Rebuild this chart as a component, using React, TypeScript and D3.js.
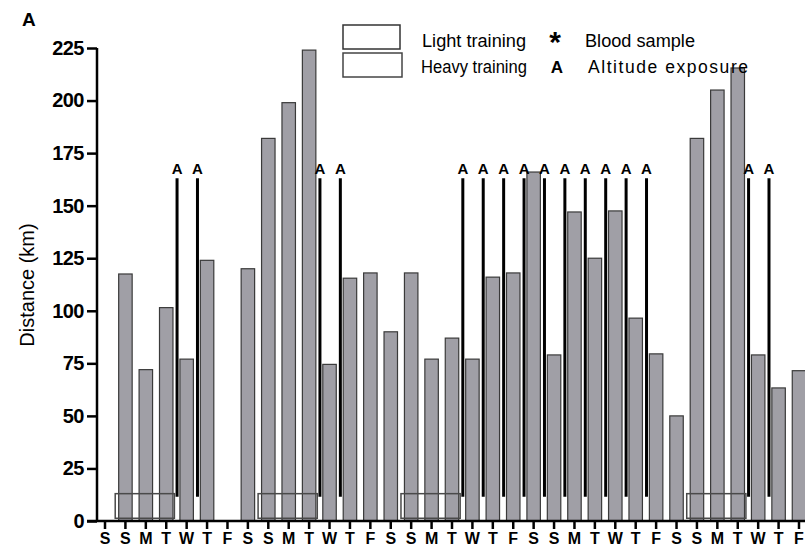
import React, { useEffect, useRef } from "react";
import * as d3 from "d3";

const dayLabels: string[] = [
  "S", "S", "M", "T", "W", "T", "F",
  "S", "S", "M", "T", "W", "T", "F",
  "S", "S", "M", "T", "W", "T", "F",
  "S", "S", "M", "T", "W", "T", "F",
  "S", "S", "M", "T", "W", "T", "F",
];

const distances: (number | null)[] = [
  null, 117.5, 72, 101.5, 77, 124, null,
  120, 182, 199, 224, 74.5, 115.5, 118,
  90, 118, 77, 87, 77, 116, 118,
  166, 79, 147, 125, 147.5, 96.5, 79.5,
  50, 182, 205, 215.5, 79, 63.3, 71.5,
];

const altitudeDays: number[] = [3, 4, 10, 11, 17, 18, 19, 20, 21, 22, 23, 24, 25, 26, 31, 32];
const altitudeTop = 163;
const altitudeBottom = 11.5;

const trainingStart: number[] = [1, 8, 15, 29];
const trainingEnd: number[] = [3, 10, 17, 31];
const trainingTop = 13;
const trainingBottom = 1.3;

const yTicks: number[] = [0, 25, 50, 75, 100, 125, 150, 175, 200, 225];

const W = 805;
const H = 547;
const FONT = "'Liberation Sans', Arial, Helvetica, sans-serif";

export default function App() {
  const xAxisRef = useRef<SVGGElement>(null);
  const yAxisRef = useRef<SVGGElement>(null);

  const idx = dayLabels.map((_, i) => i);
  const x = d3
    .scaleBand<number>()
    .domain(idx)
    .range([94.8, 809.2])
    .paddingInner(0.34)
    .paddingOuter(0.17);
  const step = x.step();
  const bw = x.bandwidth();
  const cx = (i: number) => (x(i) as number) + bw / 2;

  const y = d3.scaleLinear().domain([0, 225]).range([521, 48]);

  useEffect(() => {
    if (xAxisRef.current) {
      const g = d3.select(xAxisRef.current);
      g.selectAll("*").remove();
      g.call(
        d3
          .axisBottom(x)
          .tickSize(8)
          .tickPadding(4)
          .tickFormat((d) => dayLabels[d as number])
      );
      g.select(".domain").remove();
      g.selectAll(".tick line").attr("stroke", "#000").attr("stroke-width", 2.5);
      g.selectAll(".tick text")
        .attr("fill", "#000")
        .style("font-family", FONT)
        .style("font-size", "16px")
        .style("font-weight", "bold");
    }
    if (yAxisRef.current) {
      const g = d3.select(yAxisRef.current);
      g.selectAll("*").remove();
      g.call(d3.axisLeft(y).tickValues(yTicks).tickSize(10).tickPadding(3));
      g.select(".domain").remove();
      g.selectAll(".tick line").attr("stroke", "#000").attr("stroke-width", 2.5);
      g.selectAll(".tick text")
        .attr("fill", "#000")
        .style("font-family", FONT)
        .style("font-size", "20px")
        .style("font-weight", "bold")
        .style("letter-spacing", "-0.5px");
    }
  });

  return (
    <svg
      width={W}
      height={H}
      style={{ position: "absolute", left: 0, top: 0, background: "#fff" }}
      fontFamily={FONT}
    >
      {/* bars */}
      {distances.map((v, i) =>
        v == null ? null : (
          <rect
            key={"b" + i}
            x={x(i)}
            y={y(v)}
            width={bw}
            height={y(0) - y(v)}
            fill="#a09fa6"
            stroke="#3a3a3a"
            strokeWidth={1.2}
          />
        )
      )}

      {/* training blocks */}
      {trainingStart.map((s, k) => (
        <rect
          key={"t" + k}
          x={cx(s) - step * 0.5}
          y={y(trainingTop)}
          width={cx(trainingEnd[k]) + step * 0.4 - (cx(s) - step * 0.5)}
          height={y(trainingBottom) - y(trainingTop)}
          fill="none"
          stroke="#4a4a4a"
          strokeWidth={1.5}
        />
      ))}

      {/* altitude exposure lines */}
      {altitudeDays.map((d) => (
        <g key={"a" + d}>
          <line
            x1={cx(d) + step * 0.53}
            x2={cx(d) + step * 0.53}
            y1={y(altitudeBottom)}
            y2={y(altitudeTop)}
            stroke="#000"
            strokeWidth={3}
          />
          <text
            x={cx(d) + step * 0.53}
            y={y(altitudeTop) - 4}
            textAnchor="middle"
            fontSize={15}
            fontWeight="bold"
            fill="#000"
          >
            A
          </text>
        </g>
      ))}

      {/* axes */}
      <g ref={xAxisRef} transform={`translate(0,${y(0)})`} />
      <g ref={yAxisRef} transform={`translate(97,0)`} />
      <line x1={97} x2={97} y1={y(225)} y2={y(0)} stroke="#000" strokeWidth={2.5} />
      <line x1={87} x2={W} y1={y(0)} y2={y(0)} stroke="#000" strokeWidth={2.5} />

      {/* y title */}
      <text
        transform={`translate(34,285) rotate(-90)`}
        textAnchor="middle"
        fontSize={20}
        fill="#000"
      >
        Distance (km)
      </text>

      {/* panel letter */}
      <text x={22} y={26} fontSize={19} fontWeight="bold" fill="#000">
        A
      </text>

      {/* legend */}
      <rect x={343} y={25} width={57} height={24} fill="none" stroke="#333" strokeWidth={1.5} />
      <rect x={343} y={53} width={59} height={24} fill="none" stroke="#444" strokeWidth={1.5} />
      <text x={422} y={47} fontSize={17.5} fill="#000" textLength={104} lengthAdjust="spacingAndGlyphs">
        Light training
      </text>
      <text x={421} y={73} fontSize={17.5} fill="#000" textLength={106} lengthAdjust="spacingAndGlyphs">
        Heavy training
      </text>
      <text x={555} y={52} fontSize={30} fontWeight="bold" textAnchor="middle" fill="#000">
        *
      </text>
      <text x={557} y={73} fontSize={17} fontWeight="bold" textAnchor="middle" fill="#000">
        A
      </text>
      <text x={585} y={47} fontSize={17.5} fill="#000" textLength={110} lengthAdjust="spacingAndGlyphs">
        Blood sample
      </text>
      <text x={588} y={73} fontSize={17.5} fill="#000" textLength={160} lengthAdjust="spacing">
        Altitude exposure
      </text>
    </svg>
  );
}
